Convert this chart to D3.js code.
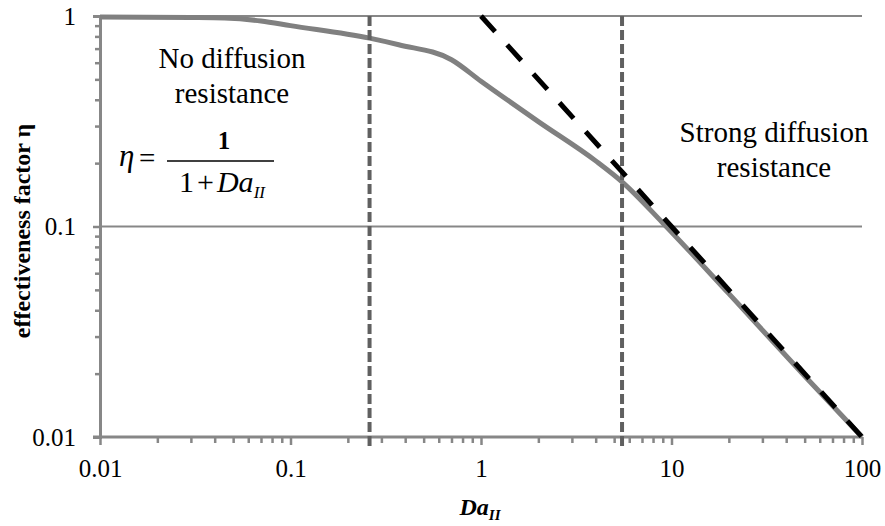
<!DOCTYPE html>
<html>
<head>
<meta charset="utf-8">
<script src="https://cdn.jsdelivr.net/npm/d3@7"></script>
<style>
  body { margin: 0; background: #fff; }
</style>
</head>
<body>
<svg id="chart" width="885" height="526"></svg>
<script>

// curve
var daValues  = [0.01, 0.03, 0.045, 0.07, 0.1, 0.26, 0.37, 0.7, 1, 2, 4, 5.5, 9, 20, 50, 100],
    etaValues = [0.99, 0.984, 0.978, 0.947, 0.9, 0.785, 0.73, 0.62, 0.49, 0.315, 0.205, 0.163, 0.104, 0.048, 0.0195, 0.01],

    // asymptote eta = 1/Da
    asymDa  = [1, 100],
    asymEta = [1, 0.01],

    // regime borders
    borders = [0.26, 5.5],

    xTicks = [0.01, 0.1, 1, 10, 100],
    yTicks = [0.01, 0.1, 1],
    xTickLabels = ["0.01", "0.1", "1", "10", "100"],
    yTickLabels = ["0.01", "0.1", "1"];

var margin = {top: 16, right: 23, bottom: 89, left: 100},
    width = 885 - margin.left - margin.right,
    height = 526 - margin.top - margin.bottom,
    gray = "#878787",
    serif = '"Liberation Serif", "Times New Roman", serif';

var svg = d3.select("#chart"),
    g = svg.append("g").attr("transform", "translate(" + margin.left + "," + margin.top + ")");

var x = d3.scaleLog().domain([0.01, 100]).range([0, width]);
var y = d3.scaleLog().domain([0.01, 1]).range([height, 0]);

// minor ticks
var minorX = [], minorY = [];
[0.01, 0.1, 1, 10].forEach(function (d) {
    for (var k = 2; k <= 9; k++) { minorX.push(d * k); }
});
[0.01, 0.1].forEach(function (d) {
    for (var k = 2; k <= 9; k++) { minorY.push(d * k); }
});

// gridlines
g.selectAll("line.grid")
    .data([0.1, 1])
    .enter().append("line")
    .attr("class", "grid")
    .attr("x1", 0).attr("x2", width)
    .attr("y1", function (d) { return y(d); })
    .attr("y2", function (d) { return y(d); })
    .attr("stroke", gray).attr("stroke-width", 2);

// axes
var xMinor = g.append("g")
    .attr("transform", "translate(0," + height + ")")
    .call(d3.axisBottom(x).tickValues(minorX).tickSize(6).tickFormat(""));
var xMajor = g.append("g")
    .attr("transform", "translate(0," + height + ")")
    .call(d3.axisBottom(x).tickValues(xTicks).tickSize(8).tickPadding(14)
        .tickFormat(function (d, i) { return xTickLabels[i]; }));

var yMinor = g.append("g")
    .call(d3.axisLeft(y).tickValues(minorY).tickSize(5).tickFormat(""));
var yMajor = g.append("g")
    .call(d3.axisLeft(y).tickValues(yTicks).tickSize(7).tickPadding(17)
        .tickFormat(function (d, i) { return yTickLabels[i]; }));

[xMinor, xMajor, yMinor, yMajor].forEach(function (ax) {
    ax.attr("font-family", null);
    ax.select(".domain").attr("stroke", gray).attr("stroke-width", 3);
    ax.selectAll(".tick line").attr("stroke", gray).attr("stroke-width", 2.5);
    ax.selectAll(".tick text")
        .style("font-family", serif)
        .style("font-size", "25px").attr("fill", "#000");
});
xMajor.select(".domain").attr("d", "M-7,0H" + width);
yMinor.select(".domain").remove();
xMinor.select(".domain").remove();
yMajor.selectAll(".tick text").attr("dy", "0.33em");
xMajor.selectAll(".tick text").attr("dy", "0.71em");

// main curve
var line = d3.line()
    .x(function (d) { return x(d[0]); })
    .y(function (d) { return y(d[1]); })
    .curve(d3.curveMonotoneX);

g.append("path")
    .datum(d3.zip(daValues, etaValues))
    .attr("d", line)
    .attr("fill", "none")
    .attr("stroke", "#808080")
    .attr("stroke-width", 5);

// regime borders
g.selectAll("line.border")
    .data(borders)
    .enter().append("line")
    .attr("class", "border")
    .attr("x1", function (d) { return x(d); })
    .attr("x2", function (d) { return x(d); })
    .attr("y1", 0).attr("y2", height + 11)
    .attr("stroke", "#606060").attr("stroke-width", 4)
    .attr("stroke-dasharray", "10,4");

// asymptote
g.append("path")
    .datum(d3.zip(asymDa, asymEta))
    .attr("d", d3.line().x(function (d) { return x(d[0]); }).y(function (d) { return y(d[1]); }))
    .attr("fill", "none")
    .attr("stroke", "#000")
    .attr("stroke-width", 5)
    .attr("stroke-dasharray", "21,18");

// region notes
var notes = [
    {x: 232, y: 68, lines: ["No diffusion", "resistance"]},
    {x: 774, y: 142, lines: ["Strong diffusion", "resistance"]}
];
notes.forEach(function (n) {
    var t = svg.append("text")
        .attr("text-anchor", "middle")
        .style("font-family", serif)
        .style("font-size", "29px");
    n.lines.forEach(function (s, i) {
        t.append("tspan").attr("x", n.x).attr("y", n.y + i * 35).text(s);
    });
});

// formula eta = 1 / (1 + Da_II)
svg.append("text")
    .attr("x", 119).attr("y", 166)
    .style("font-family", serif)
    .style("font-size", "31px").style("font-style", "italic")
    .text("η");
svg.append("text")
    .attr("x", 139).attr("y", 168)
    .style("font-family", serif)
    .style("font-size", "29px")
    .text("=");
svg.append("line")
    .attr("x1", 167).attr("x2", 274)
    .attr("y1", 161).attr("y2", 161)
    .attr("stroke", "#000").attr("stroke-width", 1.5);
svg.append("text")
    .attr("x", 224).attr("y", 149)
    .attr("text-anchor", "middle")
    .style("font-family", serif)
    .style("font-size", "25px").style("font-weight", "bold")
    .text("1");
var den = svg.append("text")
    .attr("x", 222).attr("y", 192)
    .attr("text-anchor", "middle")
    .style("font-family", serif)
    .style("font-size", "30px");
den.append("tspan").text("1");
den.append("tspan").attr("dx", 3).text("+");
den.append("tspan").attr("dx", 3).style("font-style", "italic").text("Da");
den.append("tspan").style("font-style", "italic").style("font-size", "17px")
    .attr("dy", 6).text("II");

// axis titles
svg.append("text")
    .attr("transform", "translate(30,231) rotate(-90)")
    .attr("text-anchor", "middle")
    .style("font-family", serif)
    .style("font-size", "24px").style("font-weight", "bold")
    .text("effectiveness factor η");

var xt = svg.append("text")
    .attr("x", 480).attr("y", 515)
    .attr("text-anchor", "middle")
    .style("font-family", serif)
    .style("font-size", "24px").style("font-weight", "bold").style("font-style", "italic");
xt.append("tspan").text("Da");
xt.append("tspan").style("font-size", "15px").attr("dy", 5).text("II");

</script>
</body>
</html>
